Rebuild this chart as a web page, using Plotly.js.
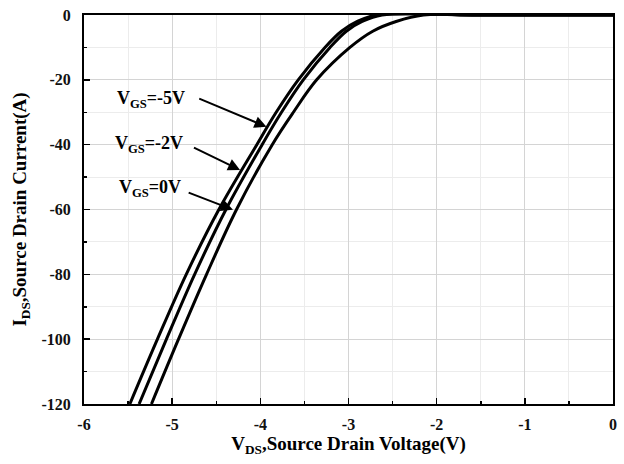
<!DOCTYPE html>
<html>
<head>
<meta charset="utf-8">
<script src="https://cdn.plot.ly/plotly-3.0.1.min.js"></script>
<style>
  html, body { margin: 0; padding: 0; background: #ffffff; }
  #chart { width: 624px; height: 464px; }
</style>
</head>
<body>
<div id="chart"></div>
<script>
// Source-drain current levels (A) on the rising part of each output curve
const idsLevels = [-120, -100, -80, -60, -40, -30, -20, -10, -5, -2, 0];

// Source-drain voltage (V) at each current level, one array per gate bias
const vdsGsMinus5 = [-5.48, -5.167, -4.84, -4.47, -4.04, -3.82, -3.57, -3.267, -3.08, -2.90, -2.68];
const vdsGsMinus2 = [-5.375, -5.065, -4.745, -4.39, -3.98, -3.76, -3.513, -3.21, -3.025, -2.845, -2.62];
const vdsGs0      = [-5.235, -4.928, -4.61, -4.27, -3.865, -3.625, -3.361, -2.984, -2.725, -2.46, -2.15];

// Beyond the knee the current stays at zero up to VDS = 0
const flatVds = [-1.6, -1.0, -0.5, 0];
const flatIds = [0, 0, 0, 0];

const gateLabels = ['V<sub>GS</sub>=-5V', 'V<sub>GS</sub>=-2V', 'V<sub>GS</sub>=0V'];
// Label anchor (right edge) and arrow tail / tip, in data units
const labelPos   = [[-4.83, -26.2], [-4.86, -39.8], [-4.88, -53.6]];
const arrowTail  = [[-4.71, -25.6], [-4.77, -40.7], [-4.83, -54.6]];
const arrowTip   = [[-3.93, -34.5], [-4.23, -47.8], [-4.31, -60.1]];

const xTicks = [-6, -5, -4, -3, -2, -1, 0];
const yTicks = [-120, -100, -80, -60, -40, -20, 0];

const serif = 'Liberation Serif, Times New Roman, serif';

const curveStyle = { color: '#000000', width: 3, shape: 'spline', smoothing: 1 };
const traces = [vdsGsMinus5, vdsGsMinus2, vdsGs0].map((vds) => ({
  type: 'scatter',
  mode: 'lines',
  x: vds.concat(flatVds),
  y: idsLevels.concat(flatIds),
  line: curveStyle,
  hoverinfo: 'skip',
  showlegend: false
}));

const annotations = [];
gateLabels.forEach((txt, i) => {
  annotations.push({
    x: labelPos[i][0], y: labelPos[i][1], xref: 'x', yref: 'y',
    text: txt, showarrow: false, xanchor: 'right', yanchor: 'middle',
    font: { family: serif, size: 18, color: '#000000', weight: 'bold' }
  });
  annotations.push({
    x: arrowTip[i][0], y: arrowTip[i][1], xref: 'x', yref: 'y',
    ax: arrowTail[i][0], ay: arrowTail[i][1], axref: 'x', ayref: 'y',
    text: '', showarrow: true, arrowhead: 2, arrowsize: 1.2, arrowwidth: 2,
    arrowcolor: '#000000', standoff: 0, startstandoff: 0
  });
});

const axisCommon = {
  showline: true, linecolor: '#000000', linewidth: 2, mirror: true,
  ticks: 'inside', ticklen: 6, tickwidth: 1.5, tickcolor: '#000000',
  showgrid: true, gridcolor: '#d4d4d4', gridwidth: 1,
  zeroline: false,
  tickfont: { family: serif, size: 16, color: '#111111', weight: 'bold' }
};

const layout = {
  width: 624, height: 464,
  margin: { l: 84, r: 11, t: 15, b: 60 },
  paper_bgcolor: '#ffffff', plot_bgcolor: '#ffffff',
  xaxis: Object.assign({}, axisCommon, {
    range: [-6, 0], tickvals: xTicks, ticktext: xTicks.map(String),
    ticklabelstandoff: 5,
    minor: { dtick: 0.5, showgrid: true, gridcolor: '#ececec', gridwidth: 1,
             ticks: 'inside', ticklen: 3, tickcolor: '#000000', tickwidth: 1.5 },
    title: { text: 'V<sub>DS</sub>,Source Drain Voltage(V)', standoff: 3,
             font: { family: serif, size: 19, color: '#000000', weight: 'bold' } }
  }),
  yaxis: Object.assign({}, axisCommon, {
    range: [-120, 0], tickvals: yTicks, ticktext: yTicks.map(String),
    ticklabelstandoff: 8,
    minor: { dtick: 10, showgrid: true, gridcolor: '#ececec', gridwidth: 1,
             ticks: 'inside', ticklen: 3, tickcolor: '#000000', tickwidth: 1.5 },
    title: { text: 'I<sub>DS</sub>,Source Drain Current(A)', standoff: 10,
             font: { family: serif, size: 19, color: '#000000', weight: 'bold' } }
  }),
  annotations: annotations,
  showlegend: false
};

Plotly.newPlot('chart', traces, layout, { displayModeBar: false, staticPlot: true });
</script>
</body>
</html>
